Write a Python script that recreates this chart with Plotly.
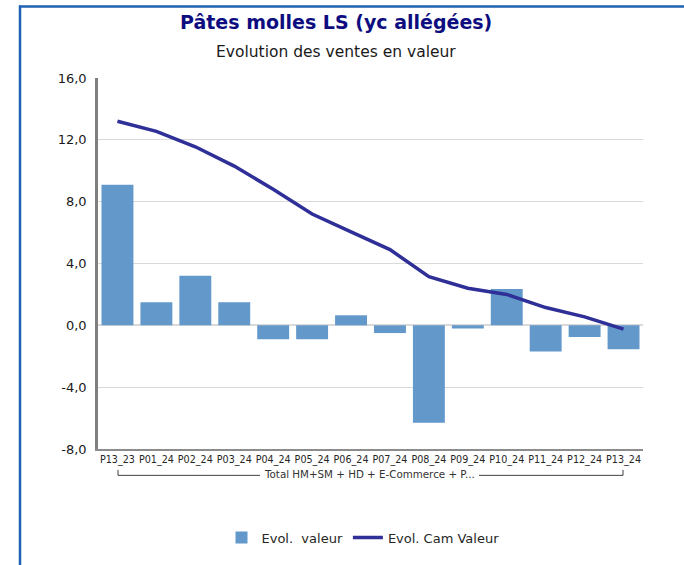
import plotly.graph_objects as go

categories = ["P13_23", "P01_24", "P02_24", "P03_24", "P04_24", "P05_24", "P06_24",
              "P07_24", "P08_24", "P09_24", "P10_24", "P11_24", "P12_24", "P13_24"]
evol_valeur = [9.1, 1.5, 3.2, 1.5, -0.9, -0.9, 0.65, -0.5, -6.3, -0.2, 2.35, -1.7, -0.75, -1.55]
evol_cam_valeur = [13.2, 12.55, 11.55, 10.3, 8.8, 7.2, 6.05, 4.9, 3.15, 2.4, 2.0, 1.15, 0.55, -0.25]
y_tickvals = [-8, -4, 0, 4, 8, 12, 16]
y_ticktext = ["-8,0", "-4,0", "0,0", "4,0", "8,0", "12,0", "16,0"]
group_label = "Total HM+SM + HD + E-Commerce + P..."

W, H = 684, 565
L, R, T, B = 98, 643, 78, 451

def px(x):
    return (x - L) / (R - L)

def py(y):
    return (B - y) / (B - T)

fig = go.Figure()
fig.add_trace(go.Bar(x=categories, y=evol_valeur, name="Evol.  valeur",
                     marker=dict(color="#6398cb", line=dict(width=0))))
fig.add_trace(go.Scatter(x=categories, y=evol_cam_valeur, name="Evol. Cam Valeur",
                         mode="lines", line=dict(color="#2f2f98", width=3.5)))

shapes = [
    # blue frame
    dict(type="line", xref="paper", yref="paper", x0=px(19), x1=px(W + 5), y0=py(6), y1=py(6),
         line=dict(color="#1f62b5", width=2.5)),
    dict(type="line", xref="paper", yref="paper", x0=px(20), x1=px(20), y0=py(5), y1=py(H + 5),
         line=dict(color="#1f62b5", width=2.5)),
    # group bracket
    dict(type="line", xref="paper", yref="paper", x0=px(118), x1=px(118), y0=py(472), y1=py(477.5),
         line=dict(color="#404040", width=1)),
    dict(type="line", xref="paper", yref="paper", x0=px(118), x1=px(260), y0=py(477.5), y1=py(477.5),
         line=dict(color="#404040", width=1)),
    dict(type="line", xref="paper", yref="paper", x0=px(479), x1=px(623), y0=py(477.5), y1=py(477.5),
         line=dict(color="#404040", width=1)),
    dict(type="line", xref="paper", yref="paper", x0=px(623), x1=px(623), y0=py(472), y1=py(477.5),
         line=dict(color="#404040", width=1)),
]

annotations = [
    dict(text="<b>Pâtes molles LS (yc allégées)</b>", xref="paper", yref="paper",
         x=px(336), y=py(22), xanchor="center", yanchor="middle", showarrow=False,
         font=dict(family="DejaVu Sans", size=19, color="#0d0d80")),
    dict(text="Evolution des ventes en valeur", xref="paper", yref="paper",
         x=px(336), y=py(52), xanchor="center", yanchor="middle", showarrow=False,
         font=dict(family="DejaVu Sans", size=15.5, color="#1a1a1a")),
    dict(text=group_label, xref="paper", yref="paper",
         x=px(369), y=py(476), xanchor="center", yanchor="middle", showarrow=False,
         font=dict(family="DejaVu Sans", size=10.3, color="#333333")),
]

fig.update_layout(
    width=W, height=H,
    margin=dict(l=L, r=W - R, t=T, b=H - B, pad=0),
    paper_bgcolor="white", plot_bgcolor="white",
    showlegend=True,
    legend=dict(orientation="h", x=px(363), xanchor="center", y=py(540), yanchor="middle",
                font=dict(family="DejaVu Sans", size=13, color="#262626"),
                itemwidth=30, traceorder="normal"),
    bargap=0.18,
    shapes=shapes,
    annotations=annotations,
    font=dict(family="DejaVu Sans"),
)
fig.update_xaxes(showline=True, linecolor="#8c8c8c", linewidth=2, ticks="",
                 tickfont=dict(family="DejaVu Sans", size=9.6, color="#262626"),
                 tickangle=0, showgrid=False, zeroline=False)
fig.update_yaxes(range=[-8, 16], tickvals=y_tickvals, ticktext=y_ticktext,
                 showline=True, linecolor="#7f7f7f", linewidth=2.5, ticks="",
                 tickfont=dict(family="DejaVu Sans", size=13, color="#1a1a1a"),
                 showgrid=True, gridcolor="#d9d9d9", gridwidth=1.2,
                 zeroline=True, zerolinecolor="#d9d9d9", zerolinewidth=1.5, ticklabelstandoff=6)

fig.write_html("out.html", config={"displayModeBar": False},
               post_script="document.body.style.margin='0';document.body.style.overflow='hidden';")
